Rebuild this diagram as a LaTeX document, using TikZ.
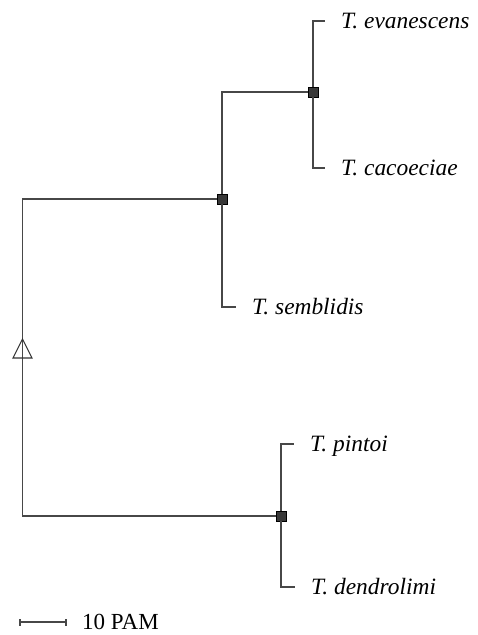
\documentclass[tikz,border=0pt]{standalone}
\usepackage{fontspec}
\setmainfont{Liberation Serif}
\begin{document}
\begin{tikzpicture}[x=1pt,y=-1pt,
  branch/.style={draw=black!72, line width=1.2pt},
  sq/.style={draw=black, line width=0.5pt, fill=black!78, minimum size=10pt, inner sep=0pt, outer sep=0pt},
  leaf/.style={anchor=west, inner xsep=16pt, inner ysep=0pt, text height=15pt, text depth=0pt,
    font=\fontsize{23.4}{27}\selectfont\itshape},
  lbl/.style={anchor=west, inner xsep=0pt, inner ysep=0pt, text height=15pt, text depth=0pt,
    font=\fontsize{23}{27}\selectfont}]
\useasboundingbox (0,0) rectangle (477,635);
% internal nodes
\node[sq] (S1) at (222,199) {};
\node[sq] (S2) at (313,92) {};
\node[sq] (S3) at (281,516) {};
% leaves
\node[leaf] (evan) at (325,21) {T. evanescens};
\node[leaf] (caco) at (325,168) {T. cacoeciae};
\node[leaf] (semb) at (236,307) {T. semblidis};
\node[leaf] (pint) at (294,444) {T. pintoi};
\node[leaf] (dend) at (295,587) {T. dendrolimi};
% root
\coordinate (root) at (22.5,350);
% branches
\draw[branch] (S1) -| (root) |- (S3);
\draw[branch] (S1) |- (S2);
\draw[branch] (S1) |- (semb.west);
\draw[branch] (S2) |- (evan.west);
\draw[branch] (S2) |- (caco.west);
\draw[branch] (S3) |- (pint.west);
\draw[branch] (S3) |- (dend.west);
% root triangle
\draw[draw=black!80, line width=1.1pt, line join=miter] (22.5,339) -- (13,358) -- (32,358) -- cycle;
% scale bar
\coordinate (sbL) at (20,622);
\coordinate (sbR) at (66,622);
\draw[branch] (sbL) -- (sbR);
\draw[branch] ([yshift=-3.5pt]sbL) -- ([yshift=3.5pt]sbL);
\draw[branch] ([yshift=-3.5pt]sbR) -- ([yshift=3.5pt]sbR);
\node[lbl] (sbT) at (82,622) {10 PAM};
\end{tikzpicture}
\end{document}
